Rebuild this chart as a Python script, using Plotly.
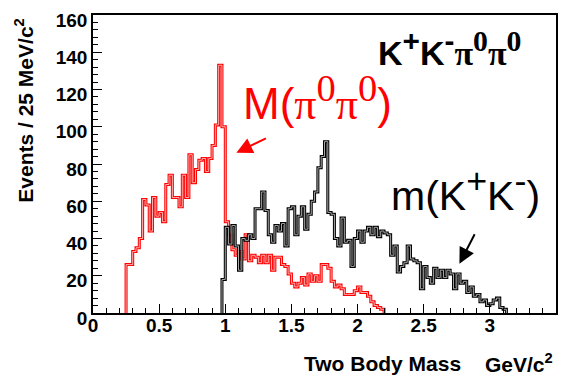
import numpy as np
import plotly.graph_objects as go

# ---------------- data ----------------
bin_width = 0.025

# M(pi0 pi0) histogram, bins of 25 MeV starting at 0.25 GeV
red_start = 0.25
red_counts = [26, 26, 33, 35, 40, 61, 58, 44, 62, 52,
              54, 49, 69, 74, 62, 62, 57, 74, 62, 85,
              70, 77, 82, 83, 76, 83, 90, 101, 133, 100,
              49, 42, 34, 31, 33, 29, 42, 28, 31, 30,
              27, 31, 27, 31, 23, 30, 30, 26, 25, 21,
              16, 14, 16, 19, 15, 21, 17, 20, 17, 26,
              26, 24, 17, 14, 15, 13, 10, 10, 10, 12,
              14, 11, 11, 9, 6, 4, 3, 2]

# m(K+ K-) histogram, bins of 25 MeV starting at 0.975 GeV
black_start = 0.975
black_counts = [18, 46, 37, 47, 36, 23, 40, 39, 42, 40,
                56, 56, 65, 55, 42, 38, 47, 44, 48, 36,
                56, 57, 42, 52, 57, 45, 53, 60, 65, 78,
                84, 92, 54, 53, 40, 36, 51, 38, 39, 25,
                40, 44, 38, 44, 46, 42, 46, 41, 44, 43,
                42, 31, 36, 22, 25, 27, 36, 29, 28, 27,
                13, 25, 19, 16, 24, 19, 23, 19, 23, 21,
                13, 21, 16, 17, 11, 14, 9, 10, 6, 7,
                4, 5, 7, 8, 3, 2]

x_tick_vals = [0, 0.5, 1, 1.5, 2, 2.5, 3, 3.5]
x_tick_text = ["0", "0.5", "1", "1.5", "2", "2.5", "3", "3.5"]
y_tick_vals = [0, 20, 40, 60, 80, 100, 120, 140, 160]

# ---------------- figure ----------------
W, H = 568, 378
ML, MR, MT, MB = 93, 10, 10, 65
PW, PH = W - ML - MR, H - MT - MB


def step_xy(start, counts):
    c = np.asarray(counts, dtype=float)
    edges = start + bin_width * np.arange(len(c) + 1)
    x = np.concatenate([[edges[0]], edges[:-1], [edges[-1]]])
    y = np.concatenate([[0.0], c, [0.0]])
    return x, y


def px(xpix):
    return (xpix - ML) / PW


def py(ypix):
    return (MT + PH - ypix) / PH


fig = go.Figure()
for start, counts, col, inner in [(red_start, red_counts, "#ff0000", "#ffb0b0"),
                                  (black_start, black_counts, "#000000", "#a8a8a8")]:
    xs, ys = step_xy(start, counts)
    fig.add_trace(go.Scatter(x=xs, y=ys, mode="lines", line=dict(color=col, width=3, shape="hv"),
                             hoverinfo="skip", showlegend=False))
    fig.add_trace(go.Scatter(x=xs, y=ys, mode="lines", line=dict(color=inner, width=1, shape="hv"),
                             hoverinfo="skip", showlegend=False))

tickfont = dict(family="Liberation Sans", size=19, color="black", weight="bold")

fig.update_layout(
    width=W, height=H,
    margin=dict(l=ML, r=MR, t=MT, b=MB, pad=0),
    paper_bgcolor="white", plot_bgcolor="white",
    xaxis=dict(range=[0, 3.5], tickmode="array", tickvals=x_tick_vals, ticktext=x_tick_text,
               ticks="inside", ticklen=9, tickwidth=1, tickcolor="black",
               showline=True, linecolor="black", linewidth=1.5, mirror=True,
               showgrid=False, zeroline=False, tickfont=tickfont, ticklabelstandoff=-6,
               minor=dict(tickmode="linear", tick0=0, dtick=0.1, ticks="inside",
                          ticklen=5, tickwidth=1, tickcolor="black", showgrid=False)),
    yaxis=dict(range=[0, 160], tickmode="array", tickvals=y_tick_vals,
               ticks="inside", ticklen=9, tickwidth=1, tickcolor="black",
               showline=True, linecolor="black", linewidth=1.5, mirror=True,
               showgrid=False, zeroline=False, tickfont=tickfont, ticklabelshift=5,
               ticklabeloverflow="allow",
               minor=dict(tickmode="linear", tick0=0, dtick=4, ticks="inside",
                          ticklen=5, tickwidth=1, tickcolor="black", showgrid=False)),
)

ann = []
titlefont = dict(family="Liberation Sans", size=21, color="black", weight="bold")
ann.append(dict(text="Events / 25 MeV/c<sup>2</sup>", x=px(24), y=py(107), xref="paper", yref="paper",
                textangle=-90, showarrow=False, xanchor="center", yanchor="middle", font=titlefont))
ann.append(dict(text="Two Body Mass", x=px(465), y=py(364), xref="paper", yref="paper",
                showarrow=False, xanchor="right", yanchor="middle", font=titlefont))
ann.append(dict(text="GeV/c<sup>2</sup>", x=px(557), y=py(364), xref="paper", yref="paper",
                showarrow=False, xanchor="right", yanchor="middle", font=titlefont))

serif = "font-family:Liberation Serif"
big = "font-size:125%"
ann.append(dict(text=f"K<sup><span style='{big}'>+</span></sup>K<sup><span style='{big}'>-</span></sup>"
                     f"<span style='{serif}'>π<sup><span style='{big}'>0</span></sup>π<sup><span style='{big}'>0</span></sup></span>",
                x=px(451), y=py(44), xref="paper", yref="paper", showarrow=False,
                xanchor="center", yanchor="middle",
                font=dict(family="Liberation Sans", size=34, color="black", weight="bold")))
ann.append(dict(text=f"M(<span style='{serif}'>π<sup><span style='{big}'>0</span></sup>π<sup><span style='{big}'>0</span></sup></span>)",
                x=px(318), y=py(94), xref="paper", yref="paper", showarrow=False,
                xanchor="center", yanchor="middle",
                font=dict(family="Liberation Sans", size=44, color="#ff0000")))
ann.append(dict(text=f"m(K<sup><span style='{big}'>+</span></sup>K<sup><span style='{big}'>-</span></sup>)",
                x=px(467), y=py(188), xref="paper", yref="paper", showarrow=False,
                xanchor="center", yanchor="middle",
                font=dict(family="Liberation Sans", size=41, color="black")))

# arrows
ann.append(dict(text="", x=px(237), y=py(150), xref="paper", yref="paper", showarrow=True,
                ax=31, ay=-15, arrowhead=2, arrowsize=1.6, arrowwidth=2, arrowcolor="#ff0000"))
ann.append(dict(text="", x=px(461), y=py(263), xref="paper", yref="paper", showarrow=True,
                ax=16, ay=-31, arrowhead=2, arrowsize=1.6, arrowwidth=2, arrowcolor="#000000"))

fig.update_layout(annotations=ann)
fig.write_html("out.html")
